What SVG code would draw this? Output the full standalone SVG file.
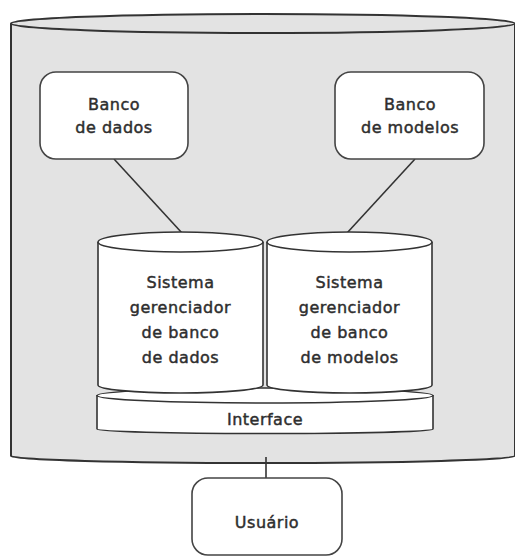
<svg xmlns="http://www.w3.org/2000/svg" width="515" height="558" viewBox="0 0 515 558">
<style>
.t{font-family:"DejaVu Sans","Liberation Sans",sans-serif;font-size:16px;fill:#2e2e2e;stroke:#2e2e2e;stroke-width:0.45px;text-anchor:middle;letter-spacing:0.5px}
.box{fill:#fff;stroke:#444;stroke-width:1.6}
.cyl{fill:#fff;stroke:#333;stroke-width:1.6}
.ln{stroke:#333;stroke-width:1.6;fill:none}
</style>
<rect width="515" height="558" fill="#fff"/>
<g id="sistema">
<path d="M11,23.5 L11,456 A252,7 0 0 0 515,456 L515,23.5" fill="#e3e3e3" stroke="#333" stroke-width="2"/>
<ellipse cx="263" cy="23.5" rx="252" ry="9.5" fill="#e3e3e3" stroke="#333" stroke-width="2"/>
</g>
<g id="connectors">
<line class="ln" x1="114" y1="159" x2="182" y2="233"/>
<line class="ln" x1="415" y1="159" x2="347" y2="233"/>
<line class="ln" x1="266" y1="457" x2="266" y2="478"/>
</g>
<g id="banco-dados">
<rect class="box" x="40" y="72" width="148" height="87" rx="16"/>
<text class="t" x="114" y="110">Banco</text>
<text class="t" x="114" y="133">de dados</text>
</g>
<g id="banco-modelos">
<rect class="box" x="335" y="72" width="149" height="87" rx="16"/>
<text class="t" x="410" y="110">Banco</text>
<text class="t" x="410" y="133">de modelos</text>
</g>
<g id="interface">
<path class="cyl" d="M97,395 L97,429 A168,4.5 0 0 0 433,429 L433,395"/>
<ellipse class="cyl" cx="265" cy="395.5" rx="168" ry="7.5"/>
<text class="t" x="265" y="425">Interface</text>
</g>
<g id="sgbd">
<path class="cyl" d="M98,242 L98,385 A82.5,8 0 0 0 263,385 L263,242"/>
<ellipse class="cyl" cx="180.5" cy="242" rx="82.5" ry="10"/>
<text class="t" x="180.5" y="288">Sistema</text>
<text class="t" x="180.5" y="313">gerenciador</text>
<text class="t" x="180.5" y="338">de banco</text>
<text class="t" x="180.5" y="363">de dados</text>
</g>
<g id="sgbm">
<path class="cyl" d="M267,242 L267,385 A82.5,8 0 0 0 432,385 L432,242"/>
<ellipse class="cyl" cx="349.5" cy="242" rx="82.5" ry="10"/>
<text class="t" x="349.5" y="288">Sistema</text>
<text class="t" x="349.5" y="313">gerenciador</text>
<text class="t" x="349.5" y="338">de banco</text>
<text class="t" x="349.5" y="363">de modelos</text>
</g>
<g id="usuario">
<rect class="box" x="192" y="478" width="150" height="77" rx="16"/>
<text class="t" x="267" y="528">Usuário</text>
</g>
</svg>
